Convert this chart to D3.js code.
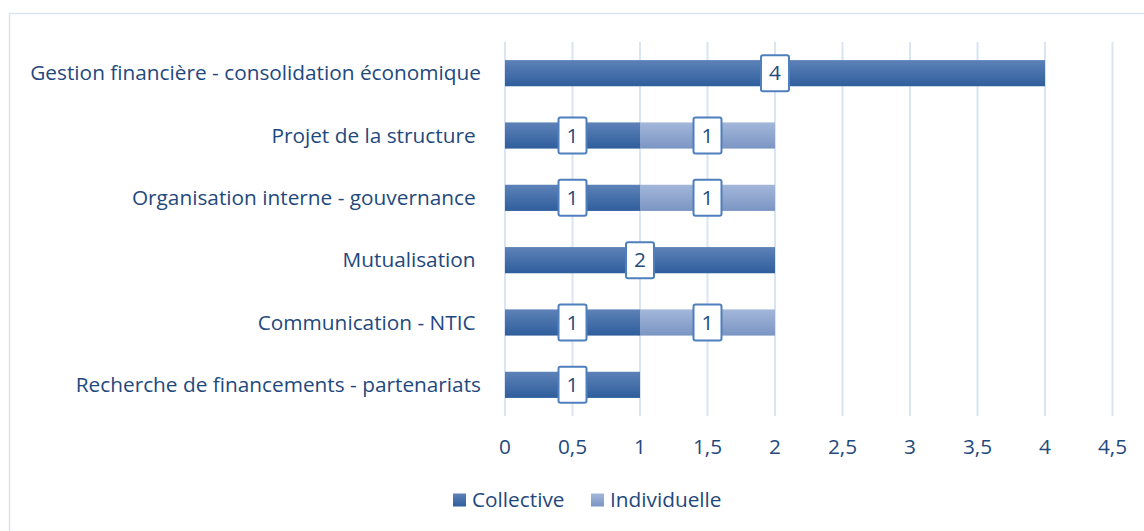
<!DOCTYPE html>
<html>
<head>
<meta charset="utf-8">
<script src="https://cdn.jsdelivr.net/npm/d3@7"></script>
<style>
  body { margin: 0; background: #fff; }
  text { font-family: "Open Sans", sans-serif; fill: #1f497d; }
</style>
</head>
<body>
<svg id="chart"></svg>
<script>
const categories = [
    "Gestion financière - consolidation économique",
    "Projet de la structure ",
    "Organisation interne - gouvernance ",
    "Mutualisation ",
    "Communication - NTIC ",
    "Recherche de financements - partenariats"
];
const collective = [4, 1, 1, 2, 1, 1];
const individuelle = [0, 1, 1, 0, 1, 0];
const ticks = [0, 0.5, 1, 1.5, 2, 2.5, 3, 3.5, 4, 4.5];
const seriesNames = ["Collective", "Individuelle"];

const width = 1144, height = 531;
const margin = { top: 42, right: 32, bottom: 115, left: 505 };
const fs = "20.8px";

const svg = d3.select("#chart").attr("width", width).attr("height", height);

// dégradés des barres
const defs = svg.append("defs");
const grads = [["gCol", "#5d82b8", "#2f5e9c"], ["gInd", "#a3b7da", "#7b95c3"]];
grads.forEach(([id, c1, c2]) => {
    const g = defs.append("linearGradient").attr("id", id)
        .attr("x1", 0).attr("y1", 0).attr("x2", 0).attr("y2", 1);
    g.append("stop").attr("offset", "0%").attr("stop-color", c1);
    g.append("stop").attr("offset", "100%").attr("stop-color", c2);
});

// cadre
svg.append("rect")
    .attr("x", 9.5).attr("y", 13.5)
    .attr("width", 1200).attr("height", 600)
    .attr("fill", "none").attr("stroke", "#dae3ef").attr("stroke-width", 1.5);

const x = d3.scaleLinear().domain([0, 4.5])
    .range([margin.left, margin.left + 4.5 * 135]);

const y = d3.scaleBand().domain(categories)
    .range([margin.top, height - margin.bottom])
    .paddingInner(0.58).paddingOuter(0.29);

// grille
svg.append("g").selectAll("line").data(ticks).join("line")
    .attr("x1", d => x(d)).attr("x2", d => x(d))
    .attr("y1", margin.top).attr("y2", height - margin.bottom)
    .attr("stroke", "#dae5f3").attr("stroke-width", 2);

// étiquettes de l'axe
svg.append("g").selectAll("text").data(ticks).join("text")
    .attr("x", d => x(d)).attr("y", 447)
    .attr("dy", "0.35em")
    .attr("text-anchor", "middle")
    .style("font-size", fs)
    .text(d => String(d).replace(".", ","));

// catégories
svg.append("g").selectAll("text").data(categories).join("text")
    .attr("x", 481).attr("y", d => y(d) + y.bandwidth() / 2)
    .attr("dy", "0.35em")
    .attr("text-anchor", "end")
    .style("white-space", "pre")
    .style("font-size", fs)
    .text(d => d);

// barres
const rows = categories.map((c, i) => ({ c, col: collective[i], ind: individuelle[i] }));

rows.forEach(r => {
    const yy = y(r.c);
    const segs = [];
    if (r.col > 0) segs.push({ x0: 0, x1: r.col, fill: "url(#gCol)", v: r.col });
    if (r.ind > 0) segs.push({ x0: r.col, x1: r.col + r.ind, fill: "url(#gInd)", v: r.ind });
    segs.forEach(s => {
        svg.append("rect")
            .attr("x", x(s.x0)).attr("y", yy)
            .attr("width", x(s.x1) - x(s.x0)).attr("height", y.bandwidth())
            .attr("fill", s.fill);
    });
    segs.forEach(s => {
        const cx = (x(s.x0) + x(s.x1)) / 2;
        const cy = yy + y.bandwidth() / 2;
        svg.append("rect")
            .attr("x", cx - 14).attr("y", cy - 18)
            .attr("width", 28).attr("height", 36)
            .attr("rx", 2)
            .attr("fill", "#fff").attr("stroke", "#4f7fbd").attr("stroke-width", 2);
        svg.append("text")
            .attr("x", cx).attr("y", cy).attr("dy", "0.35em")
            .attr("text-anchor", "middle")
            .style("font-size", fs)
            .text(s.v);
    });
});

// légende
const legendX = [453, 591];
const legend = svg.append("g").attr("transform", "translate(0, 500)");
seriesNames.forEach((name, i) => {
    legend.append("rect")
        .attr("x", legendX[i]).attr("y", -6.5).attr("width", 13).attr("height", 13)
        .attr("fill", i === 0 ? "url(#gCol)" : "url(#gInd)");
    legend.append("text")
        .attr("x", legendX[i] + 19).attr("y", 0).attr("dy", "0.35em")
        .style("font-size", fs)
        .text(name);
});
</script>
</body>
</html>
